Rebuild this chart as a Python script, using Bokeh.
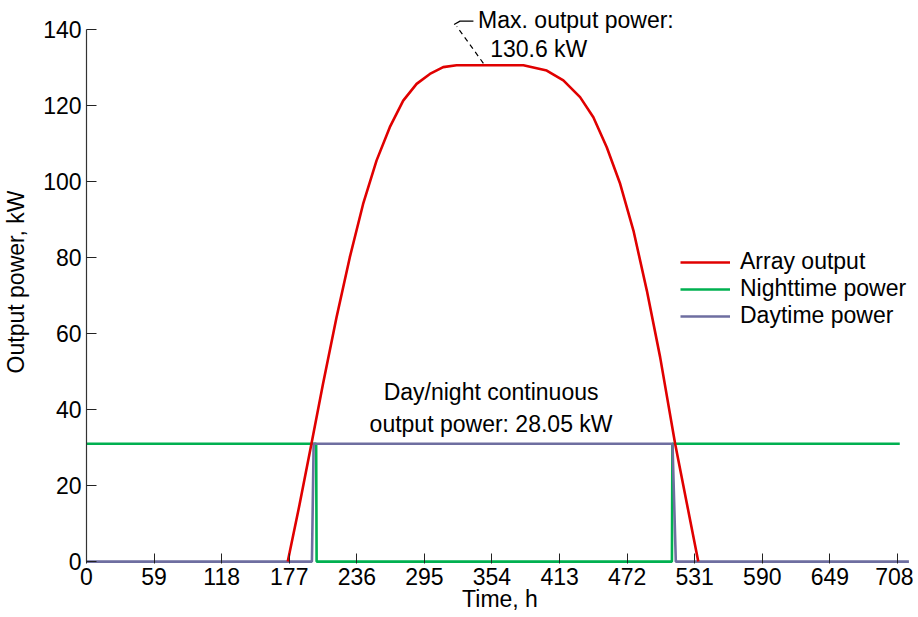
from bokeh.plotting import figure
from bokeh.models import Range1d, FixedTicker, Legend, LegendItem, Label
from bokeh.embed import file_html
from bokeh.resources import INLINE

# ---- data ----
time_array = [175.7, 186.0, 196.4, 206.5, 218.3, 229.9, 241.5, 253.2, 264.8, 276.5,
              288.2, 299.8, 311.4, 323.1, 354.0, 381.4, 401.8, 416.3, 430.9, 442.5,
              454.2, 465.9, 477.5, 489.2, 500.8, 513.9, 524.0, 534.1]
array_output = [0.0, 15.0, 31.0, 46.8, 64.3, 80.1, 94.1, 105.5, 114.3, 121.3,
                125.7, 128.3, 130.1, 130.6, 130.6, 130.6, 129.2, 126.6, 122.2, 116.9,
                109.0, 99.4, 87.1, 71.3, 53.8, 31.0, 15.5, 0.0]

time_night = [0, 200.5, 200.9, 511.1, 511.5, 710]
night_power = [31, 31, 0, 0, 31, 31]

time_day = [0, 196.8, 198.3, 511.6, 514.5, 718]
day_power = [0, 0, 31, 31, 0, 0]

x_ticks = [0, 59, 118, 177, 236, 295, 354, 413, 472, 531, 590, 649, 708]
y_ticks = [0, 20, 40, 60, 80, 100, 120, 140]

series_names = ["Array output", "Nighttime power", "Daytime power"]
series_colors = ["#E00000", "#00B050", "#6E6EA0"]

peak_text = ["Max. output power:", "130.6 kW"]
flat_text = ["Day/night continuous", "output power: 28.05 kW"]

leader_dash_x = [346.5, 323.3]
leader_dash_y = [131.1, 140.8]
leader_x = [320.9, 326.1, 337.8]
leader_y = [141.3, 142.2, 142.2]

FONT = "Liberation Sans"
FS = "23px"

p = figure(width=913, height=614,
           x_range=Range1d(0, 722), y_range=Range1d(-0.5, 147.63),
           output_backend="svg", toolbar_location=None,
           min_border=0, min_border_left=79, min_border_right=0,
           min_border_top=0, min_border_bottom=0)
p.outline_line_color = None
p.xgrid.visible = False
p.ygrid.visible = False
p.background_fill_color = "white"
p.border_fill_color = "white"

# axes
xa = p.xaxis[0]
xa.ticker = FixedTicker(ticks=x_ticks)
xa.axis_line_color = None
xa.major_tick_in = 10
xa.major_tick_out = 0
xa.minor_tick_in = 0
xa.minor_tick_out = 0
xa.major_tick_line_color = "#222222"
xa.major_label_text_font = FONT
xa.major_label_text_font_size = FS
xa.major_label_text_color = "black"
xa.major_label_standoff = 4
xa.axis_label = "Time, h"
xa.axis_label_text_font = FONT
xa.axis_label_text_font_size = FS
xa.axis_label_text_font_style = "normal"
xa.axis_label_text_color = "black"
xa.axis_label_standoff = -2

ya = p.yaxis[0]
ya.ticker = FixedTicker(ticks=y_ticks)
ya.bounds = (0, 140)
ya.axis_line_color = "#333333"
ya.axis_line_width = 1.2
ya.major_tick_in = 10
ya.major_tick_out = 0
ya.minor_tick_in = 0
ya.minor_tick_out = 0
ya.major_tick_line_color = "#222222"
ya.major_label_text_font = FONT
ya.major_label_text_font_size = FS
ya.major_label_text_color = "black"
ya.major_label_standoff = 5
ya.axis_label = "Output power, kW"
ya.axis_label_text_font = FONT
ya.axis_label_text_font_size = FS
ya.axis_label_text_font_style = "normal"
ya.axis_label_text_color = "black"
ya.axis_label_standoff = 11

# lines
r_night = p.line(time_night, night_power, line_color=series_colors[1], line_width=2.6)
r_day = p.line(time_day, day_power, line_color=series_colors[2], line_width=2.6)
r_arr = p.line(time_array, array_output, line_color=series_colors[0], line_width=2.6,
               line_join="round")

# leader line for the peak annotation
p.line(leader_dash_x, leader_dash_y, line_color="black", line_width=1.2, line_dash="5 4")
p.line(leader_x, leader_y, line_color="black", line_width=1.2)

for txt, x, y in [(peak_text[0], 341.9, 142.4), (peak_text[1], 352.4, 135.0)]:
    p.add_layout(Label(x=x, y=y, text=txt, text_font=FONT, text_font_size=FS,
                       text_baseline="middle", text_align="left", text_color="black"))
for txt, y in [(flat_text[0], 44.5), (flat_text[1], 36.3)]:
    p.add_layout(Label(x=353.2, y=y, text=txt, text_font=FONT, text_font_size=FS,
                       text_baseline="middle", text_align="center", text_color="black"))

legend = Legend(items=[LegendItem(label=series_names[0], renderers=[r_arr]),
                       LegendItem(label=series_names[1], renderers=[r_night]),
                       LegendItem(label=series_names[2], renderers=[r_day])],
                location=(594, 234), border_line_color=None, background_fill_alpha=0,
                label_text_font=FONT, label_text_font_size=FS, label_text_color="black",
                glyph_width=50, label_standoff=10, spacing=-1, padding=0, margin=0)
p.add_layout(legend)

open("out.html", "w").write(file_html(p, INLINE))
